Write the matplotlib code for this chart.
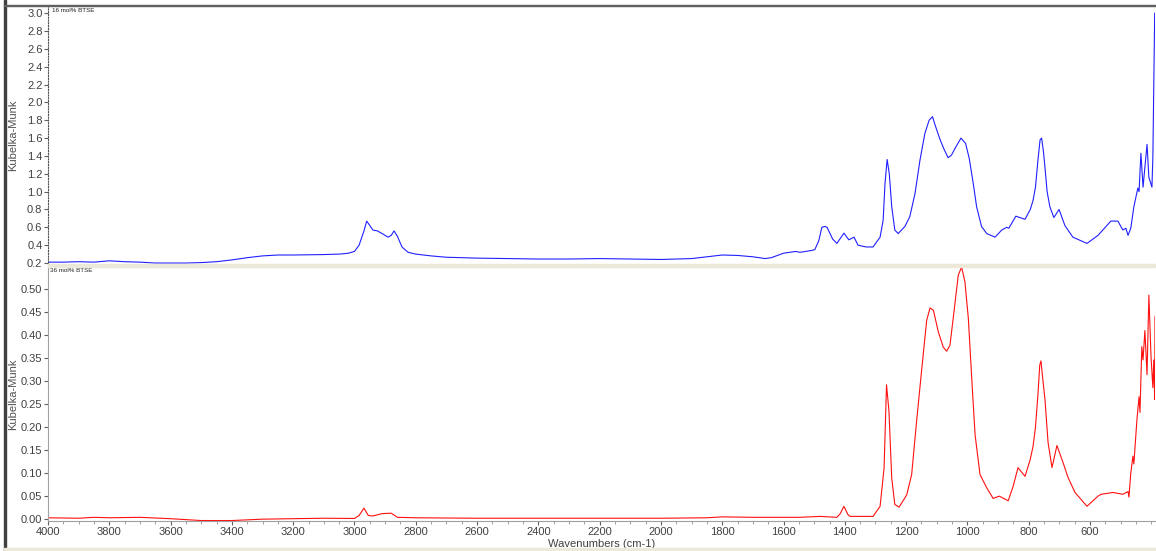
import matplotlib
matplotlib.use("Agg")
import matplotlib.pyplot as plt
from matplotlib.patches import Rectangle
import numpy as np

plt.rcParams['font.family'] = ['Liberation Sans', 'DejaVu Sans']

# 16 mol% BTSE (top, blue)
wn_top = [4000, 3950, 3900, 3850, 3800, 3750, 3700, 3650, 3600, 3550, 3500, 3450,
          3400, 3350, 3300, 3250, 3200, 3100, 3050, 3020, 3000, 2985, 2970, 2960,
          2950, 2940, 2925, 2905, 2890, 2880, 2871, 2860, 2845, 2825, 2800, 2750,
          2700, 2600, 2500, 2400, 2300, 2200, 2100, 2000, 1900, 1850, 1800, 1750,
          1700, 1660, 1640, 1600, 1560, 1547, 1510, 1498, 1485, 1475, 1465, 1458,
          1440, 1426, 1403, 1387, 1370, 1357, 1330, 1308, 1285, 1275, 1269, 1262,
          1255, 1247, 1237, 1226, 1204, 1188, 1171, 1155, 1139, 1125, 1114, 1103,
          1090, 1077, 1063, 1052, 1038, 1021, 1006, 994, 981, 970, 954, 937, 910,
          888, 872, 865, 842, 812, 795, 786, 778, 770, 763, 758, 752, 747, 740,
          731, 718, 701, 682, 656, 610, 574, 532, 509, 493, 483, 476, 467,
          457, 444, 440, 434, 427, 414, 408, 398, 395, 389]
km_top = [0.21, 0.21, 0.215, 0.21, 0.225, 0.215, 0.21, 0.2, 0.2, 0.2, 0.205, 0.215,
          0.235, 0.26, 0.28, 0.29, 0.29, 0.295, 0.30, 0.31, 0.33, 0.40, 0.55, 0.67,
          0.62, 0.57, 0.56, 0.52, 0.49, 0.51, 0.56, 0.50, 0.38, 0.32, 0.30, 0.28,
          0.265, 0.255, 0.25, 0.245, 0.245, 0.25, 0.245, 0.24, 0.25, 0.27, 0.29, 0.285,
          0.27, 0.25, 0.26, 0.31, 0.33, 0.32, 0.34, 0.35, 0.45, 0.60, 0.61, 0.60,
          0.47, 0.42, 0.535, 0.46, 0.49, 0.40, 0.38, 0.38, 0.49, 0.68, 1.09, 1.36,
          1.20, 0.83, 0.57, 0.53, 0.61, 0.72, 0.98, 1.35, 1.65, 1.80, 1.84, 1.72,
          1.59, 1.48, 1.38, 1.41, 1.50, 1.60, 1.54, 1.37, 1.09, 0.83, 0.61, 0.53, 0.49,
          0.57, 0.60, 0.59, 0.725, 0.69, 0.80, 0.90, 1.05, 1.35, 1.58, 1.60, 1.45, 1.27, 1.00,
          0.83, 0.71, 0.80, 0.62, 0.49, 0.42, 0.51, 0.67, 0.67, 0.57, 0.59, 0.51, 0.59,
          0.83, 1.04, 1.00, 1.43, 1.05, 1.53, 1.16, 1.05, 1.38, 3.0]

# 36 mol% BTSE (bottom, red)
wn_bot = [4000, 3900, 3850, 3800, 3700, 3600, 3500, 3400, 3300, 3200, 3100, 3000,
          2985, 2969, 2955, 2940, 2910, 2880, 2860, 2800, 2600, 2400, 2200, 2000,
          1850, 1800, 1700, 1600, 1547, 1481, 1426, 1415, 1403, 1390, 1383, 1308,
          1285, 1272, 1264, 1256, 1247, 1237, 1223, 1198, 1182, 1166, 1150, 1133,
          1122, 1111, 1095, 1079, 1068, 1057, 1044, 1030, 1019, 1008, 997, 986, 975,
          959, 937, 916, 896, 867, 851, 835, 812, 795, 786, 778, 770, 764, 760, 755,
          747, 737, 724, 708, 688, 672, 649,
          610, 574, 564, 525, 493, 476, 473, 467, 460, 457, 447, 440, 437, 431, 427,
          421, 414, 408, 401, 395, 392, 389, 388]
km_bot = [0.003, 0.002, 0.004, 0.003, 0.004, 0.001, -0.003, -0.003, 0.0, 0.001, 0.002, 0.0015,
          0.008, 0.024, 0.008, 0.007, 0.012, 0.013, 0.004, 0.003, 0.002, 0.002, 0.002, 0.002,
          0.003, 0.005, 0.004, 0.004, 0.004, 0.006, 0.004, 0.012, 0.028, 0.010, 0.006, 0.006,
          0.028, 0.111, 0.292, 0.234, 0.089, 0.032, 0.026, 0.053, 0.097, 0.212, 0.32, 0.432,
          0.459, 0.454, 0.407, 0.374, 0.365, 0.378, 0.45, 0.53, 0.548, 0.515, 0.436, 0.306, 0.183,
          0.097, 0.068, 0.045, 0.05, 0.04, 0.071, 0.112, 0.093, 0.13, 0.158, 0.20, 0.27, 0.335, 0.344, 0.31,
          0.26, 0.167, 0.112, 0.16, 0.123, 0.091, 0.058,
          0.028, 0.05, 0.054, 0.058, 0.054, 0.06, 0.048, 0.10, 0.137, 0.12, 0.216, 0.266, 0.232, 0.375, 0.346,
          0.41, 0.314, 0.487, 0.353, 0.286, 0.346, 0.26, 0.44]

top_ticks = [0.2, 0.4, 0.6, 0.8, 1.0, 1.2, 1.4, 1.6, 1.8, 2.0, 2.2, 2.4, 2.6, 2.8, 3.0]
bot_ticks = [0.00, 0.05, 0.10, 0.15, 0.20, 0.25, 0.30, 0.35, 0.40, 0.45, 0.50]
x_ticks = [4000, 3800, 3600, 3400, 3200, 3000, 2800, 2600, 2400, 2200, 2000,
           1800, 1600, 1400, 1200, 1000, 800, 600]

W, H = 1156, 551
fig = plt.figure(figsize=(W / 100, H / 100), dpi=100, facecolor='white')

# window frame bits
fig.patches.append(Rectangle((4 / W, 0), 1.5 / W, 1, transform=fig.transFigure,
                             color='#404040', zorder=0))
fig.patches.append(Rectangle((4 / W, 1 - 6 / H), 1, 1.2 / H, transform=fig.transFigure,
                             color='#606060', zorder=0))
fig.patches.append(Rectangle((4 / W, 0), 1, 3 / H, transform=fig.transFigure,
                             color='#ece9d8', zorder=0))
fig.patches.append(Rectangle((48 / W, (551 - 267) / H), 1107 / W, 3 / H,
                             transform=fig.transFigure, color='#ece9d8', zorder=0))

left = 48 / W
width = 1107 / W
ax1 = fig.add_axes([left, (551 - 265) / H, width, 259 / H])
ax2 = fig.add_axes([left, (551 - 521) / H, width, 254 / H])

ax1.plot(wn_top, km_top, color='#2020ff', lw=0.8)
ax2.plot(wn_bot, km_bot, color='#ff1010', lw=0.8)

for ax in (ax1, ax2):
    ax.set_xlim(4000, 388)
    ax.set_facecolor('none')
    for s in ('top', 'right'):
        ax.spines[s].set_visible(False)
    ax.spines['left'].set_color('#a0a0a0')
    ax.tick_params(axis='y', direction='out', length=3, width=0.8, color='#606060',
                   labelsize=8, labelcolor='#404040', pad=1)
    ax.set_ylabel('Kubelka-Munk', fontsize=8, color='#505050')
    ax.yaxis.set_label_coords(-30 / 1107, 0.5)

ax1.set_ylim(0.178, 3.08)
ax1.set_yticks(top_ticks)
ax1.set_yticklabels(['%.1f' % t for t in top_ticks])
ax1.spines['bottom'].set_visible(False)
ax1.spines['left'].set_linestyle((0, (1, 1.5)))
ax1.spines['left'].set_color('#505050')
ax1.set_xticks([])
ax1.text(52 / W, 1 - 10 / H, '16 mol% BTSE', transform=fig.transFigure,
         fontsize=4.5, va='center', ha='left', color='#202020')

ax2.set_ylim(-0.004, 0.548)
ax2.set_yticks(bot_ticks)
ax2.set_yticklabels(['%.2f' % t for t in bot_ticks])
ax2.spines['bottom'].set_color('#a0a0a0')
ax2.set_xticks(x_ticks)
ax2.set_xticks(np.arange(400, 4001, 50), minor=True)
ax2.tick_params(axis='x', which='major', direction='out', length=3, color='#606060',
                labelsize=8, labelcolor='#404040', pad=1)
ax2.tick_params(axis='x', which='minor', direction='out', length=2, color='#909090')
ax2.set_xlabel('Wavenumbers (cm-1)', fontsize=8, color='#404040', labelpad=2)
ax2.text(50 / W, 1 - 271 / H, '36 mol% BTSE', transform=fig.transFigure,
         fontsize=4.5, va='center', ha='left', color='#202020')

fig.savefig('out.png', dpi=100, facecolor='white')
